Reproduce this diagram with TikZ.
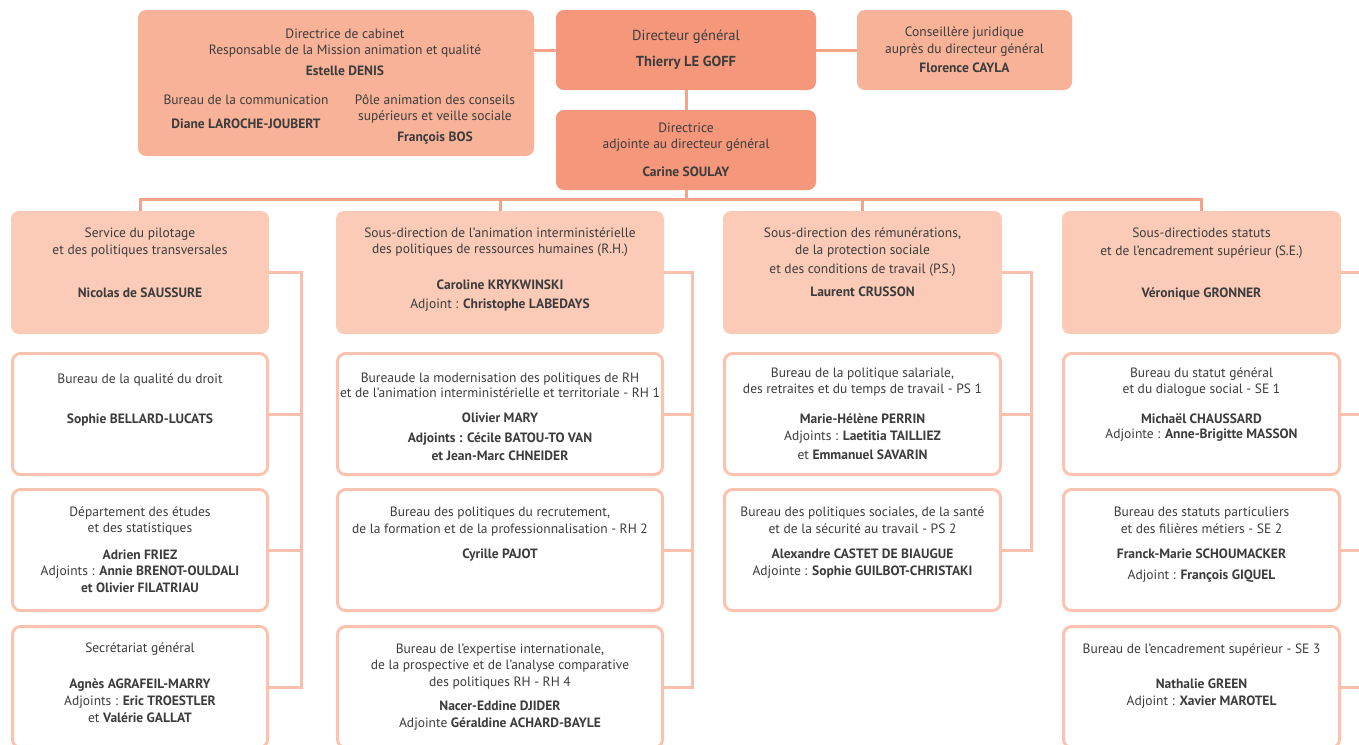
\documentclass[tikz,border=0pt]{standalone}
\usepackage{fontspec}
\setmainfont{PT Sans}
\usetikzlibrary{positioning}

\definecolor{dircol}{HTML}{F5977B}
\definecolor{cabcol}{HTML}{F8B298}
\definecolor{sdcol}{HTML}{FBCBB7}
\definecolor{bordcol}{HTML}{FBC3AF}
\definecolor{linktop}{HTML}{F6A489}
\definecolor{linkcol}{HTML}{FAC0AC}
\definecolor{inkcol}{HTML}{3C3C3C}

\newcommand{\orgfont}{\fontsize{13.5}{16}\selectfont}

\tikzset{
  orgbox/.style={rounded corners=8pt, inner sep=0pt, align=center, text=inkcol, font=\orgfont},
  dirbox/.style={orgbox, fill=dircol, minimum width=260pt, minimum height=80pt},
  cabbox/.style={orgbox, fill=cabcol},
  sdbox/.style={orgbox, fill=sdcol, minimum height=123pt},
  bureau/.style={orgbox, draw=bordcol, line width=3pt, fill=white, minimum height=121pt},
  txt/.style={anchor=north, align=center, text=inkcol, font=\orgfont, inner sep=0pt},
  toplink/.style={draw=linktop, line width=3pt},
  link/.style={draw=linkcol, line width=3pt},
}

\begin{document}
\begin{tikzpicture}[x=1pt, y=-1pt]
  \useasboundingbox (0,0) rectangle (1359,744);
  \clip (0,0) rectangle (1359,744);

  % Direction
  \node[dirbox, font=\fontsize{14.5}{16}\selectfont] (dg) at (686,50)
    {Directeur général\\[10pt]\textbf{Thierry LE GOFF}};
  \node[dirbox] (adj) at (686,150)
    {Directrice\\adjointe au directeur général\\[12pt]\textbf{Carine SOULAY}};
  \node[cabbox, minimum width=215pt, minimum height=80pt] (cons) at (964.5,50)
    {Conseillère juridique\\[1pt]auprès du directeur général\\[3pt]\textbf{Florence CAYLA}};

  % Cabinet
  \node[cabbox, minimum width=396pt, minimum height=146pt] (cab) at (336,83) {};
  \node[txt] (cabt) at (345,28.5)
    {Directrice de cabinet\\Responsable de la Mission animation et qualité\\[5pt]\textbf{Estelle DENIS}};
  \node[txt] (comt) at (246,94.5)
    {Bureau de la communication\\[8pt]\textbf{Diane LAROCHE-JOUBERT}};
  \node[txt] (polt) at (435,94.5)
    {Pôle animation des conseils\\supérieurs et veille sociale\\[5pt]\textbf{François BOS}};

  % Service du pilotage
  \node[sdbox, minimum width=258pt, label={[txt, yshift=-16.5pt]north:{Service du pilotage\\[1pt]et des politiques transversales\\[27pt]\textbf{Nicolas de SAUSSURE}}}] (pil) at (140,272.5) {};
  \node[bureau, minimum width=255pt, label={[txt, yshift=-21.5pt]north:{Bureau de la qualité du droit\\[24pt]\textbf{Sophie BELLARD-LUCATS}}}] (pil1) at (140,414) {};
  \node[bureau, minimum width=255pt, label={[txt, yshift=-18.5pt]north:{Département des études\\et des statistiques\\[11pt]\textbf{Adrien FRIEZ}\\Adjoints : \textbf{Annie BRENOT-OULDALI}\\[1pt]\textbf{et Olivier FILATRIAU}}}] (pil2) at (140,550) {};
  \node[bureau, minimum width=255pt, label={[txt, yshift=-17.5pt]north:{Secrétariat général\\[20pt]\textbf{Agnès AGRAFEIL-MARRY}\\[1pt]Adjoints : \textbf{Eric TROESTLER}\\[1pt]et \textbf{Valérie GALLAT}}}] (pil3) at (140,687) {};

  % Sous-direction RH
  \node[sdbox, minimum width=328pt, label={[txt, yshift=-16.5pt]north:{Sous-direction de l’animation interministérielle\\des politiques de ressources humaines (R.H.)\\[20pt]\textbf{Caroline KRYKWINSKI}\\[3pt]Adjoint : \textbf{Christophe LABEDAYS}}}] (rh) at (500,272.5) {};
  \node[bureau, minimum width=325pt, label={[txt, yshift=-20.5pt]north:{Bureaude la modernisation des politiques de RH\\[-1pt]et de l’animation interministérielle et territoriale - RH 1\\[9pt]\textbf{Olivier MARY}\\[4pt]\textbf{Adjoints : Cécile BATOU-TO VAN}\\[2pt]\textbf{et Jean-Marc CHNEIDER}}}] (rh1) at (500,414) {};
  \node[bureau, minimum width=325pt, label={[txt, yshift=-18.5pt]north:{Bureau des politiques du recrutement,\\[1pt]de la formation et de la professionnalisation - RH 2\\[9pt]\textbf{Cyrille PAJOT}}}] (rh2) at (500,550) {};
  \node[bureau, minimum width=325pt, label={[txt, yshift=-18.5pt]north:{Bureau de l’expertise internationale,\\de la prospective et de l’analyse comparative\\[1pt]des politiques RH - RH 4\\[8pt]\textbf{Nacer-Eddine DJIDER}\\[1pt]Adjointe \textbf{Géraldine ACHARD-BAYLE}}}] (rh4) at (500,687) {};

  % Sous-direction PS
  \node[sdbox, minimum width=279pt, label={[txt, yshift=-16.5pt]north:{Sous-direction des rémunérations,\\[1pt]de la protection sociale\\[3pt]et des conditions de travail (P.S.)\\[7pt]\textbf{Laurent CRUSSON}}}] (ps) at (862.5,272.5) {};
  \node[bureau, minimum width=276pt, label={[txt, yshift=-15.5pt]north:{Bureau de la politique salariale,\\des retraites et du temps de travail - PS 1\\[14pt]\textbf{Marie-Hélène PERRIN}\\[1pt]Adjoints : \textbf{Laetitia TAILLIEZ}\\[3pt]et \textbf{Emmanuel SAVARIN}}}] (ps1) at (862.5,414) {};
  \node[bureau, minimum width=276pt, label={[txt, yshift=-18.5pt]north:{Bureau des politiques sociales, de la santé\\[1pt]et de la sécurité au travail - PS 2\\[9pt]\textbf{Alexandre CASTET DE BIAUGUE}\\[1pt]Adjointe : \textbf{Sophie GUILBOT-CHRISTAKI}}}] (ps2) at (862.5,550) {};

  % Sous-direction SE
  \node[sdbox, minimum width=279pt, label={[txt, yshift=-16.5pt]north:{Sous-directiodes statuts\\[2pt]et de l’encadrement supérieur (S.E.)\\[26pt]\textbf{Véronique GRONNER}}}] (stat) at (1201.5,272.5) {};
  \node[bureau, minimum width=276pt, label={[txt, yshift=-15.5pt]north:{Bureau du statut général\\et du dialogue social - SE 1\\[14pt]\textbf{Michaël CHAUSSARD}\\[-1pt]Adjointe : \textbf{Anne-Brigitte MASSON}}}] (stat1) at (1201.5,414) {};
  \node[bureau, minimum width=276pt, label={[txt, yshift=-18.5pt]north:{Bureau des statuts particuliers\\[1pt]et des filières métiers - SE 2\\[9pt]\textbf{Franck-Marie SCHOUMACKER}\\[5pt]Adjoint : \textbf{François GIQUEL}}}] (stat2) at (1201.5,550) {};
  \node[bureau, minimum width=276pt, label={[txt, yshift=-18.5pt]north:{Bureau de l’encadrement supérieur - SE 3\\[19pt]\textbf{Nathalie GREEN}\\[1pt]Adjoint : \textbf{Xavier MAROTEL}}}] (stat3) at (1201.5,687) {};

  % Liens de la direction
  \draw[toplink] (dg.west -| cab.east) -- (dg.west);
  \draw[toplink] (dg.east) -- (cons.west);
  \draw[toplink] (dg.south) -- (adj.north);
  \coordinate (bus) at (686,199);
  \draw[toplink] (adj.south) -- (bus);
  \draw[toplink] (pil.north) |- (bus) -| (stat.north);
  \draw[toplink] (rh.north) -- (rh.north |- bus);
  \draw[toplink] (ps.north) -- (ps.north |- bus);

  % Liens des bureaux
  \coordinate (piltrunk) at (301,0);
  \coordinate (rhtrunk) at (692,0);
  \coordinate (pstrunk) at (1031,0);
  \coordinate (stattrunk) at (1372,0);
  \draw[link] (pil.east) -| (pil3.east -| piltrunk) -- (pil3.east);
  \draw[link] (rh.east) -| (rh4.east -| rhtrunk) -- (rh4.east);
  \draw[link] (ps.east) -| (ps2.east -| pstrunk) -- (ps2.east);
  \draw[link] (stat.east) -| (stat3.east -| stattrunk) -- (stat3.east);
  \foreach \b/\t in {pil1/piltrunk, pil2/piltrunk, rh1/rhtrunk, rh2/rhtrunk, ps1/pstrunk, stat1/stattrunk, stat2/stattrunk}
    \draw[link] (\b.east) -- (\b.east -| \t);
\end{tikzpicture}
\end{document}
